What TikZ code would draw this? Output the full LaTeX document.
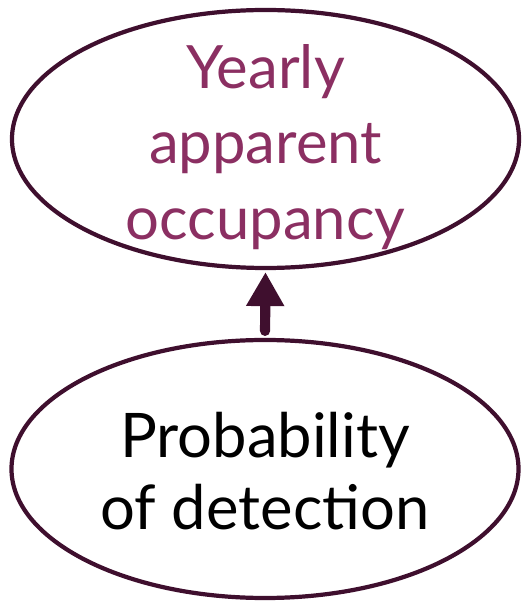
\documentclass[tikz,border=0pt]{standalone}
\usepackage{fontspec}
\setmainfont{Lato}
\usetikzlibrary{shapes.geometric,arrows.meta}
\definecolor{plum}{HTML}{3F0F2E}
\definecolor{berry}{HTML}{8B2F62}

\begin{document}
\begin{tikzpicture}
  \tikzset{
    bubble/.style={ellipse, draw=plum, line width=1.2pt, minimum width=5.07cm,
      minimum height=2.58cm, inner sep=0pt},
    words/.style={align=center, inner sep=0pt, font=\fontsize{17}{21.4}\selectfont},
    link/.style={-{Triangle[width=0.36cm,length=0.34cm]}, draw=plum, line width=2.9pt, line cap=round}
  }
  \useasboundingbox (0,0) rectangle (5.23,6.03);
  \node[bubble] (occ) at (2.655,4.64) {};
  \node[bubble] (det) at (2.65,1.34) {};
  \node[words, text=berry] (occtext) at ([yshift=-0.08cm]occ.center) {Yearly\\apparent\\occupancy};
  \node[words, text=black, font=\fontsize{17.5}{20.4}\selectfont] (dettext) at ([yshift=-0.02cm]det.center) {Probability\\of detection};
  \draw[link, shorten <=0.07cm, shorten >=0.02cm] (det.north) -- (occ.south);
\end{tikzpicture}
\end{document}
